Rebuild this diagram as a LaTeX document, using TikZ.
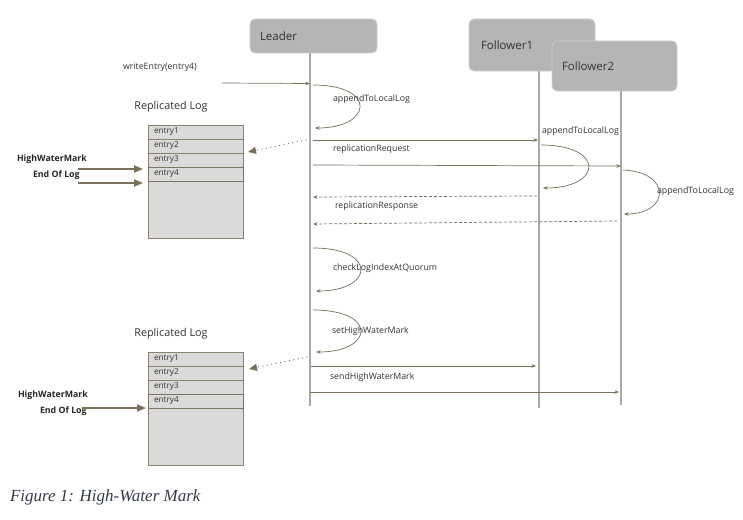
\documentclass[tikz,border=0pt]{standalone}
\usepackage{fontspec}
\newfontfamily\osans{Open Sans}
\newfontfamily\capserif{Liberation Serif}
\usetikzlibrary{arrows.meta}
\definecolor{arr}{HTML}{7A705C}
\definecolor{life}{HTML}{A8A8A8}
\definecolor{boxfill}{HTML}{B5B5B5}
\definecolor{boxline}{HTML}{D0D0D0}
\definecolor{rowfill}{HTML}{DADADA}
\definecolor{rowline}{HTML}{8C8270}
\definecolor{txt}{HTML}{333333}
\definecolor{captxt}{HTML}{353B4A}
\tikzset{
  actor/.style={draw=boxline, fill=boxfill, rounded corners=5pt, line width=0.8pt,
    anchor=north west, align=left, inner xsep=10pt, text=txt,
    font=\osans\fontsize{11.5}{13}\selectfont},
  lifeline/.style={draw=life, line width=1.3pt},
  msg/.style={draw=arr, line width=0.7pt, -{Stealth[length=4.5pt,width=3.5pt]}},
  reply/.style={msg, dash pattern=on 3pt off 2pt},
  ptr/.style={draw=arr, line width=1.8pt, -{Triangle[length=9pt,width=7pt]}},
  store/.style={draw=arr, line width=1.3pt, line cap=round, dash pattern=on 0pt off 4.5pt,
    -{Triangle[length=8pt,width=7pt]}},
  lbl/.style={text=txt, font=\osans\fontsize{8.8}{10}\selectfont, anchor=west},
  logtitle/.style={text=txt, font=\osans\fontsize{10.8}{12}\selectfont},
  hwmark/.style={text=black!85, font=\osans\bfseries\fontsize{8.8}{10}\selectfont, anchor=west},
  logbox/.style={draw=rowline, fill=rowfill, line width=0.6pt},
  logrow/.style={draw=rowline, fill=rowfill, line width=0.6pt, anchor=north west,
    minimum width=95pt, minimum height=14pt, inner xsep=6pt, text width=83pt, align=left,
    text=txt, font=\osans\fontsize{8.2}{10}\selectfont},
  lastrow/.style={logrow, line width=1pt, draw=rowline!90!black}
}
\begin{document}
\begin{tikzpicture}[x=1pt,y=-1pt, every node/.style={inner sep=0pt, outer sep=0pt}]
\fill[white] (0,0) rectangle (743,519);
\useasboundingbox (0,0) rectangle (743,519);

% actors
\node[actor, minimum width=127pt, minimum height=34pt, text width=107pt] (leader) at (250,19) {Leader};
\node[actor, minimum width=126pt, minimum height=52pt, inner xsep=12pt, text width=102pt] (f1) at (469,19) {Follower1};
\coordinate (f1end) at (539,408);
\draw[lifeline] (f1.south -| f1end) -- (f1end);
\node[actor, minimum width=125pt, minimum height=50pt, text width=105pt] (f2) at (552,41) {Follower2};
\coordinate (lend) at (310,406);
\coordinate (f2end) at (621,405);
\draw[lifeline] (leader.south -| lend) -- (lend);
\draw[lifeline] (f2.south -| f2end) -- (f2end);

% writeEntry
\node[lbl] (wlbl) at (123,67) {writeEntry(entry4)};
\coordinate (client) at (222,83);
\coordinate (l1) at (310,83.5);
\draw[msg] (client) -- (l1);

% appendToLocalLog on leader
\coordinate (a1s) at (313,85);
\coordinate (a1e) at (315,128);
\draw[msg] (a1s) .. controls (378,85) and (372,128) .. (a1e);
\node[lbl] (a1lbl) at (333,99) {appendToLocalLog};

% log 1
\node[logtitle] (rl1) at (171,107) {Replicated Log};
\draw[logbox] (148,125) rectangle (243,238);
\node[logrow] (r11) at (148,125) {entry1};
\node[logrow] (r12) at (148,139) {entry2};
\node[logrow] (r13) at (148,153) {entry3};
\node[lastrow] (r14) at (148,167) {entry4};
\node[hwmark] (hw1) at (17,159) {HighWaterMark};
\node[hwmark] (eol1) at (33,175) {End Of Log};
\coordinate (hw1s) at (78,169);
\coordinate (hw1e) at (143,169);
\coordinate (eol1s) at (78,183);
\coordinate (eol1e) at (143,183);
\draw[ptr] (hw1s) -- (hw1e);
\draw[ptr] (eol1s) -- (eol1e);
\coordinate (st1s) at (306,140);
\coordinate (st1e) at (248,152);
\draw[store] (st1s) -- (st1e);

% replication request
\coordinate (rq1s) at (313,140);
\coordinate (rq1e) at (538,140);
\draw[msg] (rq1s) -- (rq1e);
\node[lbl] (a2lbl) at (542,131) {appendToLocalLog};
\node[lbl] (rqlbl) at (333,149) {replicationRequest};
\coordinate (rq2s) at (313,165);
\coordinate (rq2e) at (621,166);
\draw[msg] (rq2s) -- (rq2e);

% follower1 append
\coordinate (a2s) at (541,145);
\coordinate (a2e) at (543,188);
\draw[msg] (a2s) .. controls (605,145) and (603,188) .. (a2e);

% responses
\coordinate (rp1s) at (537,196);
\coordinate (rp1e) at (313,197);
\draw[reply] (rp1s) -- (rp1e);
\node[lbl] (rplbl) at (335,206) {replicationResponse};

% follower2 append
\coordinate (a3s) at (623,170);
\coordinate (a3e) at (624,214);
\draw[msg] (a3s) .. controls (672,172) and (670,214) .. (a3e);
\node[lbl] (a3lbl) at (657,191) {appendToLocalLog};

\coordinate (rp2s) at (617,221);
\coordinate (rp2e) at (313,224);
\draw[reply] (rp2s) -- (rp2e);

% checkLogIndexAtQuorum
\coordinate (cqs) at (313,248);
\coordinate (cqe) at (316,291);
\draw[msg] (cqs) .. controls (378,248) and (374,291) .. (cqe);
\node[lbl] (cqlbl) at (333,268) {checkLogIndexAtQuorum};

% setHighWaterMark
\coordinate (shs) at (313,310);
\coordinate (she) at (316,352);
\draw[msg] (shs) .. controls (378,310) and (374,352) .. (she);
\node[lbl] (shlbl) at (332,331) {setHighWaterMark};

% log 2
\node[logtitle] (rl2) at (171,334) {Replicated Log};
\draw[logbox] (148,352) rectangle (243,465);
\node[logrow] (r21) at (148,352) {entry1};
\node[logrow] (r22) at (148,366) {entry2};
\node[logrow] (r23) at (148,380) {entry3};
\node[lastrow] (r24) at (148,394) {entry4};
\node[hwmark] (hw2) at (18,395) {HighWaterMark};
\node[hwmark] (eol2) at (40,411) {End Of Log};
\coordinate (eol2s) at (82,408);
\coordinate (eol2e) at (146,408);
\draw[ptr] (eol2s) -- (eol2e);
\coordinate (st2s) at (307,357);
\coordinate (st2e) at (249,369);
\draw[store] (st2s) -- (st2e);

% sendHighWaterMark
\coordinate (sh1s) at (311,366);
\coordinate (sh1e) at (536,366);
\draw[msg] (sh1s) -- (sh1e);
\node[lbl] (sndlbl) at (330,377) {sendHighWaterMark};
\coordinate (sh2s) at (310,392);
\coordinate (sh2e) at (619,392);
\draw[msg] (sh2s) -- (sh2e);

% caption
\node[anchor=west, text=captxt, font=\capserif\itshape\fontsize{17}{20}\selectfont] (cap) at (10,497) {Figure 1: High-Water Mark};
\end{tikzpicture}
\end{document}
